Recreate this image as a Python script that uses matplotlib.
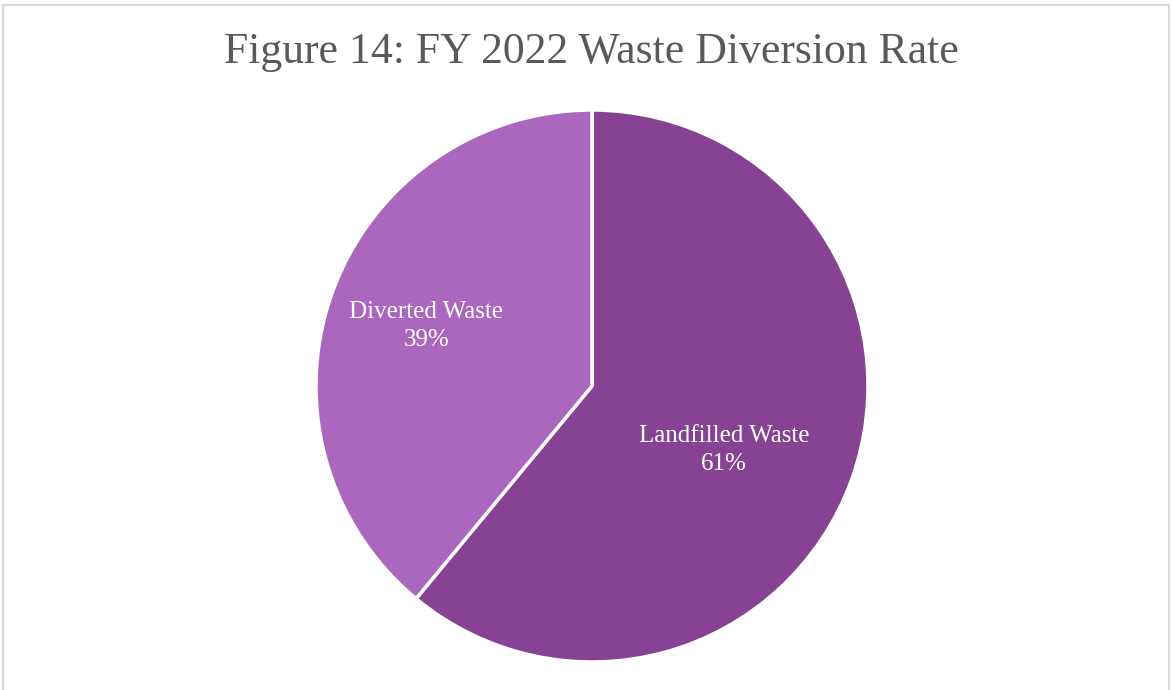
import matplotlib.pyplot as plt
from matplotlib.patches import Rectangle

# data
labels = ["Landfilled Waste", "Diverted Waste"]
shares = [61, 39]
colors = ["#874294", "#AB67BD"]

fig = plt.figure(figsize=(11.72, 6.9), dpi=100)

# light grey frame round the chart
fig.patches.append(Rectangle((3 / 1172, -0.01), 1166 / 1172, 1 - 5 / 690 + 0.01,
                             transform=fig.transFigure, fill=False,
                             edgecolor="#D9D9D9", linewidth=1.5))

fig.text(591 / 1172, 1 - 52 / 690, "Figure 14: FY 2022 Waste Diversion Rate",
         ha="center", va="center", fontsize=31.5, color="#595959",
         family="Liberation Serif")

ax = fig.add_axes([316 / 1172, 28 / 690, 552 / 1172, 552 / 690])
wedges, _ = ax.pie(shares, colors=colors, startangle=90, counterclock=False,
                   wedgeprops=dict(edgecolor="white", linewidth=2.5))
ax.set_xlim(-1, 1)
ax.set_ylim(-1, 1)
ax.set_aspect("equal")

ax.text(0.478, -0.232, "%s\n%d%%" % (labels[0], shares[0]), ha="center", va="center",
        color="white", fontsize=18, family="Liberation Serif", linespacing=1.35)
ax.text(-0.60, 0.217, "%s\n%d%%" % (labels[1], shares[1]), ha="center", va="center",
        color="white", fontsize=18, family="Liberation Serif", linespacing=1.35)

fig.savefig("out.png", dpi=100, facecolor="white")
